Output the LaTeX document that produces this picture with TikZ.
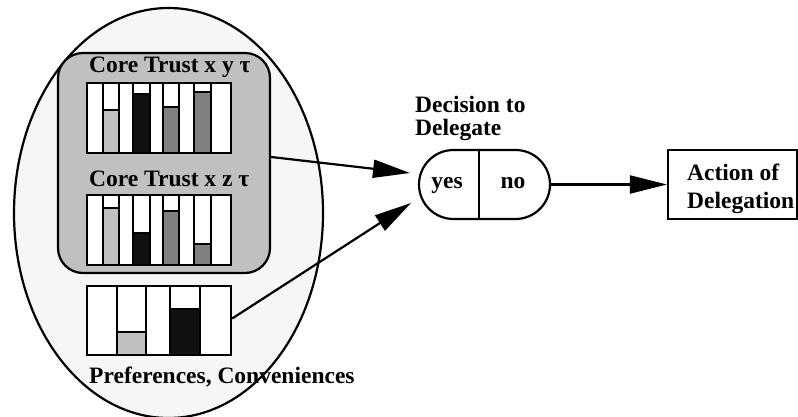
\documentclass[tikz,border=0pt]{standalone}
\usepackage{fontspec}
\setmainfont{Liberation Serif}
\usetikzlibrary{arrows.meta,shapes.geometric,shapes.misc}
\definecolor{lightbar}{HTML}{C0C0C0}
\definecolor{midbar}{HTML}{808080}
\definecolor{darkbar}{HTML}{111111}
\definecolor{haze}{HTML}{F6F6F6}
\tikzset{
  lbl/.style={font=\bfseries\fontsize{23.5}{23}\selectfont, inner sep=0pt},
  chartframe/.style={draw, line width=2.4pt, fill=white, inner sep=0pt, minimum width=144pt, minimum height=70pt},
  col/.style={draw, line width=2.4pt, fill=white},
  link/.style={draw, line width=2.2pt, -{Triangle[length=37pt,width=18pt]}},
}
\begin{document}
\begin{tikzpicture}[x=1pt,y=-1pt]
\useasboundingbox (0,0) rectangle (798,417);

% the agent and its trust compartment
\node[ellipse, draw, line width=2.2pt, fill=haze, inner sep=0pt,
      minimum width=309pt, minimum height=410pt] (agent) at (168.5,213) {};
\node[rectangle, rounded corners=25pt, draw, line width=2.2pt, fill=lightbar,
      minimum width=212pt, minimum height=220pt] (core) at (164,163) {};

% core trust x y tau
\node[lbl, anchor=base west] (titley) at (89,73) {Core Trust x y τ};
\node[chartframe] (trusty) at (159,118) {};
\foreach \a/\b/\t/\c in {103/119/110/lightbar, 133/150/94/darkbar,
                         163/179/107/midbar, 194/211/92/midbar} {
  \draw[col] (\a,83) rectangle (\b,153);
  \draw[col, fill=\c] (\a,\t) rectangle (\b,153);
}

% core trust x z tau
\node[lbl, anchor=base west] (titlez) at (89,186) {Core Trust x z τ};
\node[chartframe] (trustz) at (159,230) {};
\foreach \a/\b/\t/\c in {103/119/208/lightbar, 133/150/233/darkbar,
                         163/179/211/midbar, 194/211/244/midbar} {
  \draw[col] (\a,195) rectangle (\b,265);
  \draw[col, fill=\c] (\a,\t) rectangle (\b,265);
}

% preferences and conveniences
\node[chartframe, minimum height=69pt] (prefs) at (159,320.5) {};
\foreach \a/\b/\t/\c in {117/146/332/lightbar, 170/200/309/darkbar} {
  \draw[col] (\a,286) rectangle (\b,355);
  \draw[col, fill=\c] (\a,\t) rectangle (\b,355);
}
\node[lbl, anchor=base west] (titlep) at (89,383) {Preferences, Conveniences};

% decision (multi-line nodes sit on the baseline of their last line)
\node[lbl, align=left, anchor=base west] (dtitle) at (415,136) {Decision to\\Delegate};
\node[rounded rectangle, draw, line width=2.2pt, fill=white, inner sep=0pt,
      minimum width=131pt, minimum height=69pt] (decision) at (484.5,184.5) {};
\coordinate (split) at (479,184.5);
\draw[line width=2.2pt] (decision.north -| split) -- (decision.south -| split);
\node[lbl, anchor=base] (yes) at (447,189) {yes};
\node[lbl, anchor=base] (no) at (513,189) {no};

% action
\node[draw, line width=2.2pt, fill=white, inner sep=0pt,
      minimum width=129pt, minimum height=69pt] (action) at (732.5,184.5) {};
\node[lbl, align=left, anchor=base west] (atext) at (687,208) {Action of\\[5pt]Delegation};

% connectors
\coordinate (in1) at (410,173);
\coordinate (in2) at (411,203);
\draw[link] ([yshift=6pt]core.east) -- (in1);
\draw[link] ([yshift=2pt]prefs.east) -- (in2);
\draw[link] (decision.east) -- (action.west);
\end{tikzpicture}
\end{document}
